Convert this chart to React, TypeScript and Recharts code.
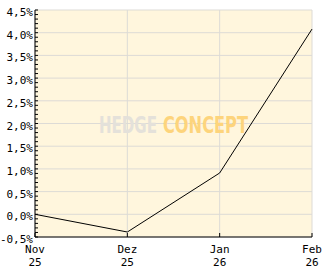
import React from "react";
import {
  LineChart,
  Line,
  XAxis,
  YAxis,
  CartesianGrid,
  Customized,
} from "recharts";

const months = ["Nov", "Dez", "Jan", "Feb"];
const years = ["25", "25", "26", "26"];
const performance = [0.0, -0.39, 0.91, 4.08];

const majorTicks = [-0.5, 0, 0.5, 1, 1.5, 2, 2.5, 3, 3.5, 4, 4.5];
// minor ticks every 0.1%
const allTicks = Array.from({ length: 51 }, (_, i) => Math.round((-0.5 + i * 0.1) * 10) / 10);

const data = months.map((m, i) => ({
  label: `${m}|${years[i]}`,
  value: performance[i],
}));

const FONT = "'DejaVu Sans Mono', monospace";

const formatPct = (v: number) => v.toFixed(1).replace(".", ",") + "%";

const YTick = (props: any) => {
  const { x, y, payload } = props;
  const v = payload.value as number;
  const isMajor = Math.abs(Math.round(v * 10) % 5) === 0;
  return (
    <g>
      <line x1={x} y1={y} x2={x + 3} y2={y} stroke="#000" />
      {isMajor && (
        <text x={x - 2} y={y + 6} textAnchor="end" fontFamily={FONT} fontSize={11} fill="#000">
          {formatPct(v)}
        </text>
      )}
    </g>
  );
};

const XTick = (props: any) => {
  const { x, y, payload } = props;
  const [m, yr] = String(payload.value).split("|");
  return (
    <g>
      <line x1={x} y1={y} x2={x} y2={y - 4} stroke="#000" />
      <text x={x} y={y + 16} textAnchor="middle" fontFamily={FONT} fontSize={11} fill="#000">
        {m}
      </text>
      <text x={x} y={y + 29} textAnchor="middle" fontFamily={FONT} fontSize={11} fill="#000">
        {yr}
      </text>
    </g>
  );
};

// background logo, stretched vertically
const Watermark = () => (
  <g
    transform="translate(0,133) scale(1,1.25)"
    fontFamily="'Liberation Sans Narrow', 'DejaVu Sans Condensed', sans-serif"
    fontWeight="bold"
    fontSize={19}
  >
    <text x={99} y={0} textLength={58} lengthAdjust="spacingAndGlyphs" fill="#e4e1da">
      HEDGE
    </text>
    <text x={163} y={0} textLength={85} lengthAdjust="spacingAndGlyphs" fill="#fdd47c">
      CONCEPT
    </text>
  </g>
);

export default function App() {
  return (
    <div style={{ position: "absolute", left: 0, top: 0, width: 332, height: 269 }}>
      <LineChart width={332} height={269} data={data} margin={{ top: 10, right: 20, bottom: 0, left: 0 }}>
        <CartesianGrid
          fill="#fff6dd"
          stroke="#dddbd6"
          horizontalValues={majorTicks}
        />
        <Customized component={Watermark} />
        <XAxis
          dataKey="label"
          height={32}
          axisLine={{ stroke: "#000" }}
          tickLine={false}
          tickSize={0}
          tickMargin={0}
          tick={<XTick />}
          interval={0}
        />
        <YAxis
          width={35}
          domain={[-0.5, 4.5]}
          ticks={allTicks}
          interval={0}
          axisLine={{ stroke: "#000" }}
          tickLine={false}
          tickSize={0}
          tickMargin={0}
          tick={<YTick />}
        />
        <Line
          type="linear"
          dataKey="value"
          stroke="#000"
          strokeWidth={1}
          dot={false}
          isAnimationActive={false}
        />
      </LineChart>
    </div>
  );
}
